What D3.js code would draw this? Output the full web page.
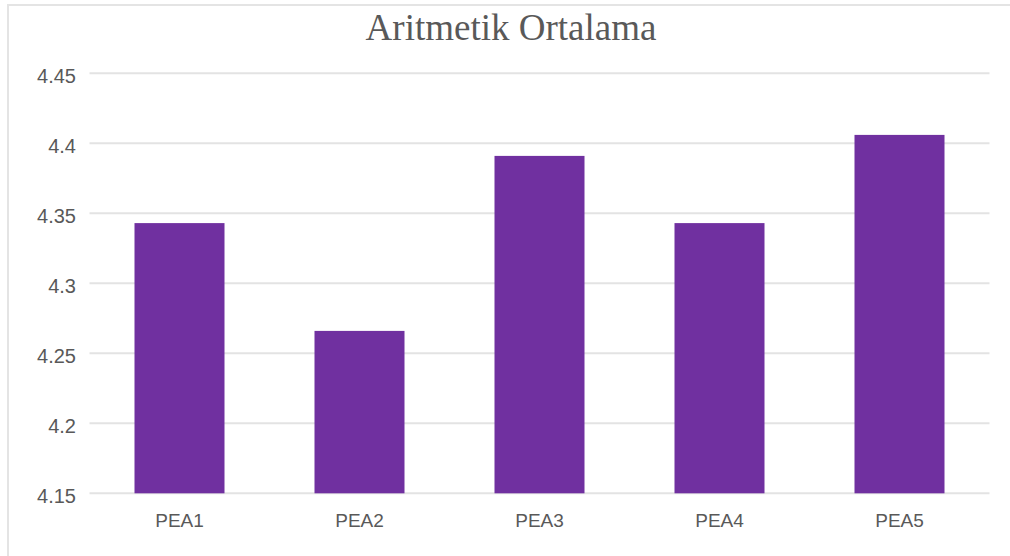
<!DOCTYPE html>
<html>
<head>
<meta charset="utf-8">
<script src="https://cdn.jsdelivr.net/npm/d3@7"></script>
<style>
  body { margin: 0; background: #fff; }
  svg { display: block; }
</style>
</head>
<body>
<svg id="chart"></svg>
<script>
var categories = ["PEA1", "PEA2", "PEA3", "PEA4", "PEA5"];
var values = [4.343, 4.266, 4.391, 4.343, 4.406];
var yTicks = [4.15, 4.2, 4.25, 4.3, 4.35, 4.4, 4.45];
var chartTitle = "Aritmetik Ortalama";

var width = 1010, height = 556;
var margin = { left: 89.5, right: 20.5, top: 73.3, bottom: 62.7 };

var svg = d3.select("#chart").attr("width", width).attr("height", height);

// outer chart frame (only top and left edges are visible in the crop)
svg.append("path")
  .attr("d", "M8,556 L8,5 L1010,5")
  .attr("fill", "none")
  .attr("stroke", "#e4e4e4")
  .attr("stroke-width", 2);

var x = d3.scaleBand()
  .domain(categories)
  .range([margin.left, width - margin.right])
  .paddingInner(0.5)
  .paddingOuter(0.25);

var y = d3.scaleLinear()
  .domain([4.15, 4.45])
  .range([height - margin.bottom, margin.top]);

// gridlines
svg.append("g")
  .selectAll("line")
  .data(yTicks)
  .enter()
  .append("line")
  .attr("x1", margin.left)
  .attr("x2", width - margin.right)
  .attr("y1", (d) => y(d))
  .attr("y2", (d) => y(d))
  .attr("stroke", "#e3e3e3")
  .attr("stroke-width", 2);

// bars
svg.append("g")
  .selectAll("rect")
  .data(values)
  .enter()
  .append("rect")
  .attr("x", (d, i) => x(categories[i]))
  .attr("width", x.bandwidth())
  .attr("y", (d) => y(d))
  .attr("height", (d) => y(4.15) - y(d))
  .attr("fill", "#7030a0");

// y axis labels
var yAxis = svg.append("g")
  .attr("transform", `translate(76,3)`)
  .call(d3.axisLeft(y).tickValues(yTicks).tickSize(0).tickPadding(0).tickFormat((d) => String(+d.toFixed(2))));
yAxis.select(".domain").remove();
yAxis.selectAll("text")
  .attr("fill", "#595959")
  .style("font-family", "'Liberation Sans', sans-serif")
  .style("font-size", "20px");

// x axis labels
var xAxis = svg.append("g")
  .attr("transform", `translate(0,${height - margin.bottom + 20})`)
  .call(d3.axisBottom(x).tickSize(0).tickPadding(0));
xAxis.select(".domain").remove();
xAxis.selectAll("text")
  .attr("fill", "#595959")
  .style("font-family", "'Liberation Sans', sans-serif")
  .style("font-size", "19px");

// title
svg.append("text")
  .attr("x", 511)
  .attr("y", 40)
  .attr("text-anchor", "middle")
  .attr("fill", "#595959")
  .style("font-family", "'Liberation Serif', 'Times New Roman', serif")
  .style("font-size", "37px")
  .text(chartTitle);
</script>
</body>
</html>
